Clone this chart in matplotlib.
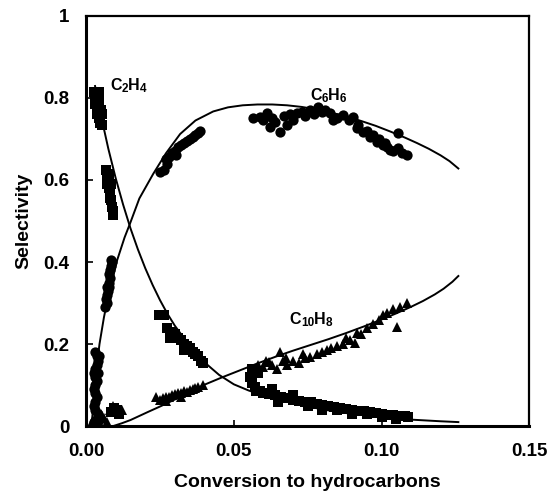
import matplotlib
matplotlib.use("Agg")
import matplotlib.pyplot as plt
from matplotlib.ticker import FixedLocator, FixedFormatter

plt.rcParams['font.family'] = ['Liberation Sans', 'DejaVu Sans']

# ---- model curves ----
c2h4_curve_x = [0.003, 0.005, 0.0075, 0.010, 0.0125, 0.015, 0.0175, 0.020, 0.0225, 0.025, 0.0275,
                0.030, 0.035, 0.040, 0.045, 0.050, 0.055, 0.060, 0.065, 0.070, 0.075, 0.080, 0.085,
                0.090, 0.095, 0.100, 0.105, 0.110, 0.115, 0.120, 0.126]
c2h4_curve_y = [0.829, 0.757, 0.676, 0.604, 0.540, 0.482, 0.431, 0.385, 0.344, 0.307, 0.274,
                0.245, 0.196, 0.156, 0.125, 0.102, 0.087, 0.075, 0.065, 0.056, 0.048, 0.041, 0.035,
                0.030, 0.026, 0.022, 0.019, 0.016, 0.014, 0.012, 0.010]

c6h6_curve_x = [0.0018, 0.0025, 0.0035, 0.0045, 0.006, 0.008, 0.0105, 0.0130, 0.0149, 0.018, 0.0227,
                0.027, 0.0318, 0.037, 0.043, 0.048, 0.053, 0.058, 0.063, 0.068, 0.073, 0.078, 0.083,
                0.088, 0.093, 0.098, 0.103, 0.108, 0.112, 0.116, 0.120, 0.123, 0.126]
c6h6_curve_y = [0.0, 0.06, 0.14, 0.20, 0.265, 0.335, 0.405, 0.46, 0.495, 0.555, 0.615,
                0.665, 0.712, 0.745, 0.767, 0.777, 0.782, 0.784, 0.784, 0.782, 0.778, 0.772, 0.764,
                0.755, 0.744, 0.732, 0.718, 0.703, 0.690, 0.676, 0.660, 0.646, 0.628]

c10h8_curve_x = [0.009, 0.012, 0.015, 0.018, 0.021, 0.025, 0.030, 0.035, 0.040, 0.046, 0.052,
                 0.058, 0.064, 0.070, 0.076, 0.082, 0.088, 0.094, 0.100, 0.105, 0.110, 0.114,
                 0.118, 0.121, 0.124, 0.126]
c10h8_curve_y = [0.0, 0.007, 0.015, 0.025, 0.035, 0.048, 0.065, 0.083, 0.101, 0.119, 0.136,
                 0.153, 0.169, 0.184, 0.198, 0.212, 0.227, 0.243, 0.260, 0.275, 0.291, 0.305,
                 0.321, 0.335, 0.352, 0.366]

# ---- measured points ----
c2h4_x = [0.0028, 0.0032, 0.0030, 0.0035, 0.0040, 0.0045, 0.0038, 0.0043, 0.0050, 0.0055, 0.0048, 0.0053, 0.0030, 0.0042,
          0.0068, 0.0072, 0.0075, 0.0070, 0.0078, 0.0082, 0.0080, 0.0085, 0.0088, 0.0092, 0.0090, 0.0076, 0.0084,
          0.0085, 0.0095, 0.0105, 0.0110,
          0.0245, 0.0265,
          0.0275, 0.0290, 0.0300, 0.0310, 0.0320, 0.0330, 0.0340, 0.0350, 0.0360, 0.0370, 0.0380, 0.0390, 0.0395, 0.0285, 0.0330,
          0.0560, 0.0555, 0.0560, 0.0570, 0.0580, 0.0575,
          0.059, 0.060, 0.062, 0.064, 0.066, 0.068, 0.070, 0.072, 0.074, 0.076, 0.078, 0.080, 0.082, 0.084, 0.086,
          0.088, 0.090, 0.092, 0.094, 0.096, 0.098, 0.100, 0.102, 0.104, 0.106, 0.108, 0.109,
          0.065, 0.075, 0.085, 0.095, 0.063, 0.070, 0.080, 0.090, 0.100, 0.105]
c2h4_y = [0.815, 0.800, 0.785, 0.775, 0.800, 0.790, 0.760, 0.750, 0.770, 0.760, 0.740, 0.735, 0.800, 0.815,
          0.625, 0.610, 0.600, 0.590, 0.580, 0.570, 0.555, 0.550, 0.535, 0.525, 0.515, 0.615, 0.590,
          0.035, 0.045, 0.040, 0.030,
          0.270, 0.270,
          0.240, 0.230, 0.225, 0.215, 0.210, 0.200, 0.195, 0.190, 0.180, 0.175, 0.170, 0.160, 0.155, 0.215, 0.185,
          0.140, 0.120, 0.105, 0.095, 0.130, 0.085,
          0.085, 0.080, 0.078, 0.075, 0.070, 0.068, 0.065, 0.062, 0.060, 0.058, 0.055, 0.052, 0.050, 0.047, 0.045,
          0.042, 0.040, 0.038, 0.036, 0.034, 0.032, 0.030, 0.028, 0.027, 0.025, 0.024, 0.022,
          0.060, 0.050, 0.040, 0.030, 0.090, 0.075, 0.040, 0.030, 0.022, 0.018]

c6h6_x = [0.0030, 0.0035, 0.0040, 0.0035, 0.0030, 0.0025, 0.0030, 0.0035, 0.0030, 0.0025, 0.0030, 0.0035, 0.0030,
          0.0025, 0.0030, 0.0040, 0.0045, 0.0025, 0.0040, 0.0045, 0.0035,
          0.0065, 0.0070, 0.0068, 0.0072, 0.0075, 0.0070, 0.0078, 0.0080, 0.0076, 0.0082, 0.0085, 0.0088, 0.0084, 0.0078,
          0.0250, 0.0265, 0.0270, 0.0280, 0.0290, 0.0300, 0.0305, 0.0310, 0.0320, 0.0330, 0.0340, 0.0350, 0.0360,
          0.0370, 0.0380, 0.0385, 0.0275,
          0.0566, 0.0589, 0.0613, 0.0623, 0.0640, 0.0657, 0.0680, 0.0700, 0.0714, 0.0759, 0.0786, 0.0826, 0.0837,
          0.0870, 0.0904, 0.0918, 0.0938, 0.0962, 0.0986, 0.1006, 0.1030, 0.1057, 0.1087, 0.1057,
          0.060, 0.063, 0.067, 0.069, 0.073, 0.074, 0.077, 0.080, 0.081, 0.085, 0.089, 0.092, 0.095, 0.097, 0.099,
          0.101, 0.102, 0.104, 0.107]
c6h6_y = [0.180, 0.170, 0.160, 0.150, 0.140, 0.130, 0.120, 0.110, 0.100, 0.090, 0.080, 0.070, 0.060,
          0.050, 0.040, 0.030, 0.015, 0.010, 0.130, 0.170, 0.005,
          0.290, 0.300, 0.310, 0.320, 0.330, 0.340, 0.350, 0.360, 0.370, 0.380, 0.390, 0.400, 0.405, 0.340,
          0.620, 0.625, 0.650, 0.655, 0.665, 0.670, 0.660, 0.680, 0.685, 0.690, 0.695, 0.700, 0.705,
          0.710, 0.715, 0.720, 0.640,
          0.751, 0.754, 0.763, 0.730, 0.741, 0.717, 0.734, 0.746, 0.763, 0.771, 0.778, 0.763, 0.746,
          0.759, 0.754, 0.727, 0.717, 0.705, 0.693, 0.685, 0.673, 0.678, 0.661, 0.715,
          0.745, 0.750, 0.755, 0.760, 0.765, 0.755, 0.760, 0.765, 0.770, 0.750, 0.745, 0.735, 0.720, 0.710, 0.700,
          0.690, 0.680, 0.670, 0.665]

c10h8_x = [0.002, 0.003, 0.004, 0.005, 0.006, 0.0035, 0.007, 0.008, 0.009, 0.010, 0.011, 0.012,
           0.0235, 0.025, 0.026, 0.027, 0.028, 0.029, 0.030, 0.031, 0.032, 0.033, 0.034, 0.035, 0.036, 0.037,
           0.038, 0.0395, 0.027, 0.032,
           0.058, 0.060, 0.061, 0.062, 0.063, 0.0645, 0.0657, 0.0667, 0.068, 0.070, 0.072, 0.074, 0.0759, 0.078,
           0.080, 0.0816, 0.083, 0.085, 0.087, 0.0894, 0.0918, 0.093, 0.095, 0.097, 0.099, 0.1006, 0.102, 0.104,
           0.1063, 0.1087, 0.1053, 0.091, 0.088, 0.0735, 0.0675]
c10h8_y = [0.010, 0.020, 0.005, 0.030, 0.020, 0.040, 0.010, 0.040, 0.050, 0.045, 0.035, 0.040,
           0.070, 0.065, 0.068, 0.072, 0.070, 0.075, 0.078, 0.080, 0.082, 0.085, 0.083, 0.088, 0.090, 0.092,
           0.095, 0.100, 0.062, 0.070,
           0.150, 0.144, 0.160, 0.156, 0.150, 0.140, 0.180, 0.160, 0.150, 0.160, 0.155, 0.165, 0.169, 0.175,
           0.180, 0.185, 0.190, 0.195, 0.200, 0.210, 0.227, 0.225, 0.240, 0.250, 0.260, 0.270, 0.275, 0.285,
           0.290, 0.300, 0.241, 0.202, 0.215, 0.175, 0.165]

# species labels: (main, subscript) pairs
label_c2h4 = [("C", "2"), ("H", "4")]
label_c6h6 = [("C", "6"), ("H", "6")]
label_c10h8 = [("C", "10"), ("H", "8")]

x_ticks = [0.00, 0.05, 0.10, 0.15]
x_tick_labels = ["0.00", "0.05", "0.10", "0.15"]
y_ticks = [0, 0.2, 0.4, 0.6, 0.8, 1.0]
y_tick_labels = ["0", "0.2", "0.4", "0.6", "0.8", "1"]

fig = plt.figure(figsize=(5.49, 4.95), dpi=100)
ax = fig.add_axes([0.157, 0.139, 0.807, 0.829])

ax.plot(c2h4_x, c2h4_y, linestyle='none', marker='s', ms=6.6, color='black', mew=0)
ax.plot(c6h6_x, c6h6_y, linestyle='none', marker='o', ms=7.4, color='black', mew=0)
ax.plot(c10h8_x, c10h8_y, linestyle='none', marker='^', ms=7.6, color='black', mew=0)

ax.plot(c2h4_curve_x, c2h4_curve_y, color='black', lw=1.4)
ax.plot(c6h6_curve_x, c6h6_curve_y, color='black', lw=1.4)
ax.plot(c10h8_curve_x, c10h8_curve_y, color='black', lw=1.4)


def chem_label(x, y, parts, size=11.5, subsize=8.5):
    first = ax.text(x, y, parts[0][0], fontsize=size, fontweight='bold', va='center', ha='left')
    prev = first
    for i, (main, sub) in enumerate(parts):
        if i > 0:
            prev = ax.annotate(main, xy=(1, 0), xycoords=(prev, first), xytext=(0, 0),
                               textcoords='offset points', fontsize=size, fontweight='bold',
                               va='bottom', ha='left')
        prev = ax.annotate(sub, xy=(1, 0), xycoords=(prev, first), xytext=(0, -1.5),
                           textcoords='offset points', fontsize=subsize, fontweight='bold',
                           va='bottom', ha='left')


chem_label(0.0081, 0.83, label_c2h4)
chem_label(0.0759, 0.807, label_c6h6)
chem_label(0.0688, 0.259, label_c10h8)

ax.set_xlim(0, 0.15)
ax.set_ylim(0, 1)
ax.xaxis.set_major_locator(FixedLocator(x_ticks))
ax.xaxis.set_major_formatter(FixedFormatter(x_tick_labels))
ax.yaxis.set_major_locator(FixedLocator(y_ticks))
ax.yaxis.set_major_formatter(FixedFormatter(y_tick_labels))
ax.tick_params(axis='x', direction='in', length=4, width=1.2, pad=12, labelsize=13.5)
ax.tick_params(axis='y', direction='in', length=5, width=1.2, pad=12, labelsize=13.5)
for lab in ax.get_xticklabels() + ax.get_yticklabels():
    lab.set_fontweight('bold')

ax.spines['left'].set_linewidth(2.2)
ax.spines['bottom'].set_linewidth(2.2)
ax.spines['top'].set_linewidth(1.6)
ax.spines['right'].set_linewidth(1.6)

ax.set_xlabel("Conversion to hydrocarbons", fontsize=14, fontweight='bold', labelpad=10)
ax.set_ylabel("Selectivity", fontsize=14, fontweight='bold', labelpad=8)

fig.savefig("out.png", dpi=100)
